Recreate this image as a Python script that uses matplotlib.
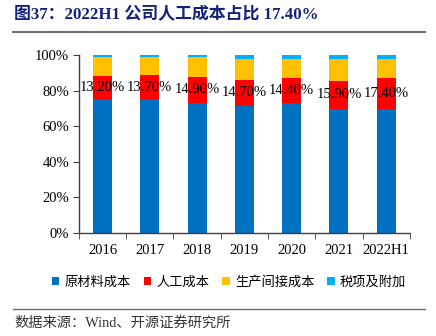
import matplotlib
matplotlib.use('agg')
import matplotlib.pyplot as plt
import numpy as np

plt.rcParams['font.family'] = ['Liberation Serif', 'Noto Sans CJK SC']

# data (share of total cost, %)
years = ['2016', '2017', '2018', '2019', '2020', '2021', '2022H1']
raw_material = [75.1, 75.1, 73.0, 71.5, 72.9, 69.7, 69.5]
labor = [13.2, 13.7, 14.9, 14.7, 14.4, 15.9, 17.4]
overhead = [10.7, 10.2, 10.8, 11.6, 10.5, 12.2, 10.9]
tax = [1.0, 1.0, 1.3, 2.2, 2.2, 2.2, 2.2]

series_names = ['原材料成本', '人工成本', '生产间接成本', '税项及附加']
colors = ['#0070C0', '#FF0000', '#FFC000', '#00B0F0']

fig = plt.figure(figsize=(4.36, 3.36), dpi=100)
ax = fig.add_axes([0.181, 0.3065, 0.759, 0.5297])

x = np.arange(len(years))
w = 0.4
bottom = np.zeros(len(years))
for vals, name, c in zip([raw_material, labor, overhead, tax], series_names, colors):
    v = np.array(vals) / 100
    ax.bar(x, v, w, bottom=bottom, color=c, label=name, linewidth=0)
    bottom += v

# labour share labels in the middle of the red segment
for i, lab in enumerate(labor):
    mid = (raw_material[i] + lab / 2) / 100
    ax.text(x[i], mid, '%.2f%%' % lab, ha='center', va='center', fontsize=10.5,
            family='Liberation Serif')

ax.set_xlim(-0.5, len(years) - 0.5)
ax.set_ylim(0, 1)
ax.set_yticks(np.arange(0, 1.01, 0.2))
ax.set_yticklabels(['%d%%' % v for v in range(0, 101, 20)], fontsize=10.5)
ax.set_xticks(x)
ax.set_xticklabels(years, fontsize=10.5)
ax.set_xticks(np.arange(-0.5, len(years), 1), minor=True)
ax.tick_params(axis='x', which='major', length=0, pad=8)
ax.tick_params(axis='x', which='minor', length=4, direction='out', color='#404040')
ax.tick_params(axis='y', length=4, direction='out', color='#404040', pad=3)
for s in ['top', 'right']:
    ax.spines[s].set_visible(False)
for s in ['left', 'bottom']:
    ax.spines[s].set_color('#404040')
    ax.spines[s].set_linewidth(1)

leg = fig.legend(loc='center', bbox_to_anchor=(0.525, 0.16), ncol=4, frameon=False,
                 handlelength=0.6, handleheight=0.6, handletextpad=0.35, columnspacing=1.0,
                 prop={'family': ['Noto Sans CJK SC'], 'size': 9.5})

fig.text(0.032, 0.955, '图37：2022H1 公司人工成本占比 17.40%', fontsize=12.2,
         fontweight='bold', color='#14237A', va='center',
         family=['Liberation Serif', 'Noto Sans CJK SC'])
fig.add_artist(plt.Line2D([0.03, 0.975], [0.905, 0.905], color='#707070', lw=1.5))
fig.add_artist(plt.Line2D([0.03, 0.975], [0.08, 0.08], color='#707070', lw=1.0))
fig.text(0.032, 0.04, '数据来源：Wind、开源证券研究所', fontsize=10.3, color='#333333',
         va='center', family=['Liberation Serif', 'Noto Sans CJK SC'])

fig.savefig('out.png', dpi=100)
